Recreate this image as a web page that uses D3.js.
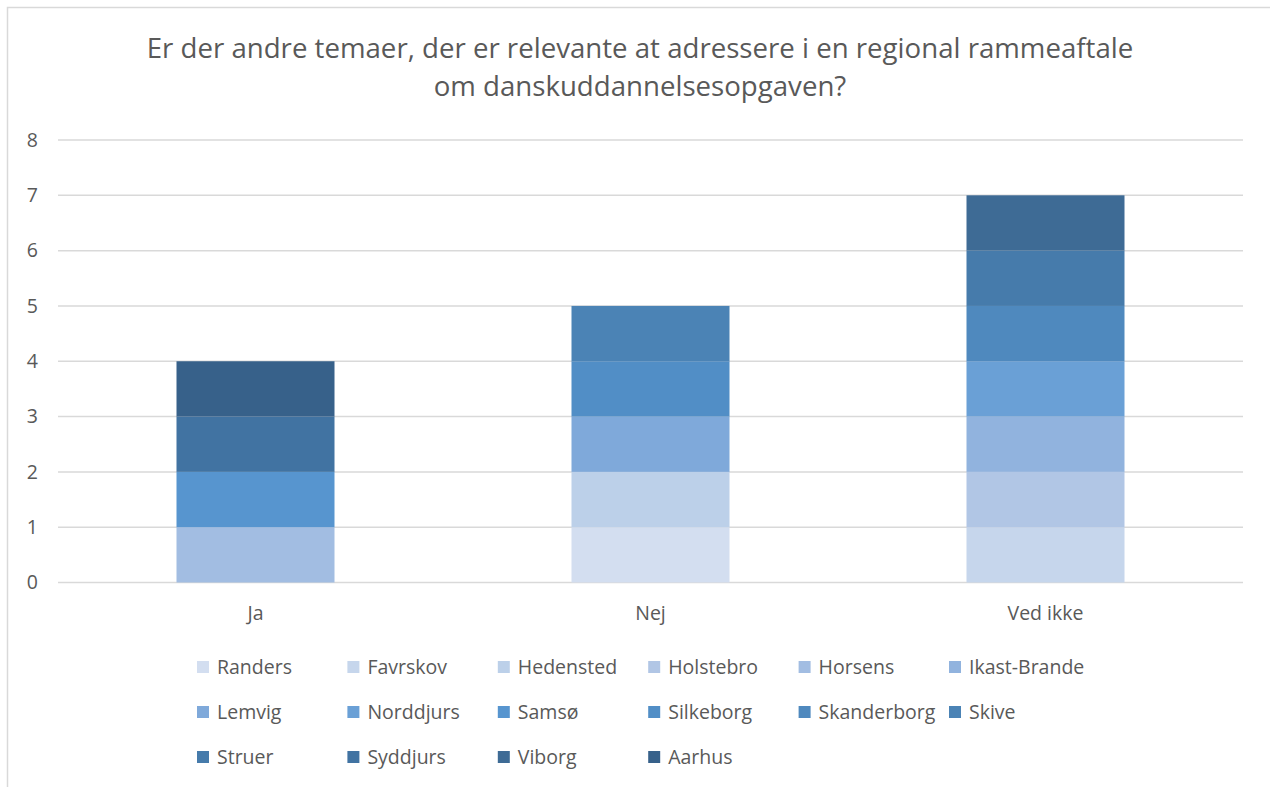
<!DOCTYPE html>
<html>
<head>
<meta charset="utf-8">
<script src="https://cdn.jsdelivr.net/npm/d3@7"></script>
<style>
  html, body { margin: 0; padding: 0; background: #fff; }
  svg { display: block; font-family: "Open Sans", "Noto Sans", sans-serif; }
</style>
</head>
<body>
<div id="chart"></div>
<script>
const titleLines = [
  'Er der andre temaer, der er relevante at adressere i en regional rammeaftale',
  'om danskuddannelsesopgaven?'
];
const categories = ['Ja', 'Nej', 'Ved ikke'];
const municipalities = ['Randers', 'Favrskov', 'Hedensted', 'Holstebro', 'Horsens', 'Ikast-Brande',
  'Lemvig', 'Norddjurs', 'Samsø', 'Silkeborg', 'Skanderborg', 'Skive',
  'Struer', 'Syddjurs', 'Viborg', 'Aarhus'];
// answers per municipality, in the order of categories (Ja, Nej, Ved ikke)
const answers = [
  [0, 1, 0], [0, 0, 1], [0, 1, 0], [0, 0, 1], [1, 0, 0], [0, 0, 1],
  [0, 1, 0], [0, 0, 1], [1, 0, 0], [0, 1, 0], [0, 0, 1], [0, 1, 0],
  [0, 0, 1], [1, 0, 0], [0, 0, 1], [1, 0, 0]
];
const colors = ['#D3DEF0', '#C6D6EC', '#BCD0E9', '#B1C6E5', '#A2BDE2', '#91B3DE',
  '#7FA9DA', '#6AA0D6', '#5795CF', '#518EC6', '#4F89BE', '#4B83B5',
  '#467BAB', '#4173A2', '#3E6B95', '#37618A'];
const yTicks = [0, 1, 2, 3, 4, 5, 6, 7, 8];

const width = 1270, height = 787;
const textColor = '#595959';
const gridColor = '#D9D9D9';
const labelSize = 19.5;
const plot = {left: 58, right: 1243, top: 140, bottom: 582.5};

const svg = d3.select('#chart').append('svg')
  .attr('width', width)
  .attr('height', height);

// chart frame
svg.append('rect')
  .attr('x', 7.5).attr('y', 7.5)
  .attr('width', width + 20).attr('height', height + 20)
  .attr('fill', '#fff')
  .attr('stroke', gridColor)
  .attr('stroke-width', 1.5);

// title, fitted to the reference width
const title = svg.append('g').attr('fill', textColor);
title.selectAll('text').data(titleLines).join('text')
  .attr('x', 640)
  .attr('y', (d, i) => 58 + i * 38)
  .attr('text-anchor', 'middle')
  .attr('font-size', 24)
  .text(d => d);
const w0 = title.select('text').node().getComputedTextLength();
title.selectAll('text').attr('font-size', 24 * 987 / w0);

const x = d3.scaleBand()
  .domain(categories)
  .range([plot.left, plot.right])
  .paddingInner(0.6)
  .paddingOuter(0.3);

const y = d3.scaleLinear()
  .domain([0, 8])
  .range([plot.bottom, plot.top]);

// gridlines
svg.append('g')
  .selectAll('line').data(yTicks).join('line')
  .attr('x1', plot.left).attr('x2', plot.right)
  .attr('y1', d => y(d)).attr('y2', d => y(d))
  .attr('stroke', gridColor)
  .attr('stroke-width', 1.5);

// y axis labels
const yAxis = svg.append('g')
  .attr('transform', 'translate(' + (plot.left - 20) + ',0)')
  .call(d3.axisLeft(y).tickValues(yTicks).tickSize(0).tickPadding(0));
yAxis.select('.domain').remove();
yAxis.selectAll('text')
  .attr('fill', textColor)
  .attr('font-size', labelSize)
  .attr('font-family', '"Open Sans", "Noto Sans", sans-serif');

// stacked bars
const table = categories.map((c, ci) => {
  const row = {category: c};
  municipalities.forEach((m, mi) => { row[m] = answers[mi][ci]; });
  return row;
});
const series = d3.stack().keys(municipalities)(table);
const color = d3.scaleOrdinal().domain(municipalities).range(colors);

svg.append('g')
  .selectAll('g').data(series).join('g')
  .attr('fill', d => color(d.key))
  .selectAll('rect').data(d => d.filter(p => p[1] > p[0])).join('rect')
  .attr('x', d => x(d.data.category))
  .attr('width', x.bandwidth())
  .attr('y', d => y(d[1]))
  .attr('height', d => y(d[0]) - y(d[1]));

// x axis labels
const xAxis = svg.append('g')
  .attr('transform', 'translate(0,' + (plot.bottom + 24) + ')')
  .call(d3.axisBottom(x).tickSize(0).tickPadding(0));
xAxis.select('.domain').remove();
xAxis.selectAll('text')
  .attr('fill', textColor)
  .attr('font-size', labelSize)
  .attr('font-family', '"Open Sans", "Noto Sans", sans-serif');

// legend
const legendCols = 6, colStep = 150.4, legendX = 197, legendY = 667, rowStep = 45;
const legend = svg.append('g')
  .selectAll('g').data(municipalities).join('g')
  .attr('transform', (d, i) => 'translate(' + (legendX + (i % legendCols) * colStep) + ',' +
    (legendY + Math.floor(i / legendCols) * rowStep) + ')');
legend.append('rect')
  .attr('x', 0).attr('y', -6)
  .attr('width', 12).attr('height', 12)
  .attr('fill', d => color(d));
legend.append('text')
  .attr('x', 20).attr('y', 0)
  .attr('dy', '0.35em')
  .attr('fill', textColor)
  .attr('font-size', labelSize)
  .text(d => d);
</script>
</body>
</html>
